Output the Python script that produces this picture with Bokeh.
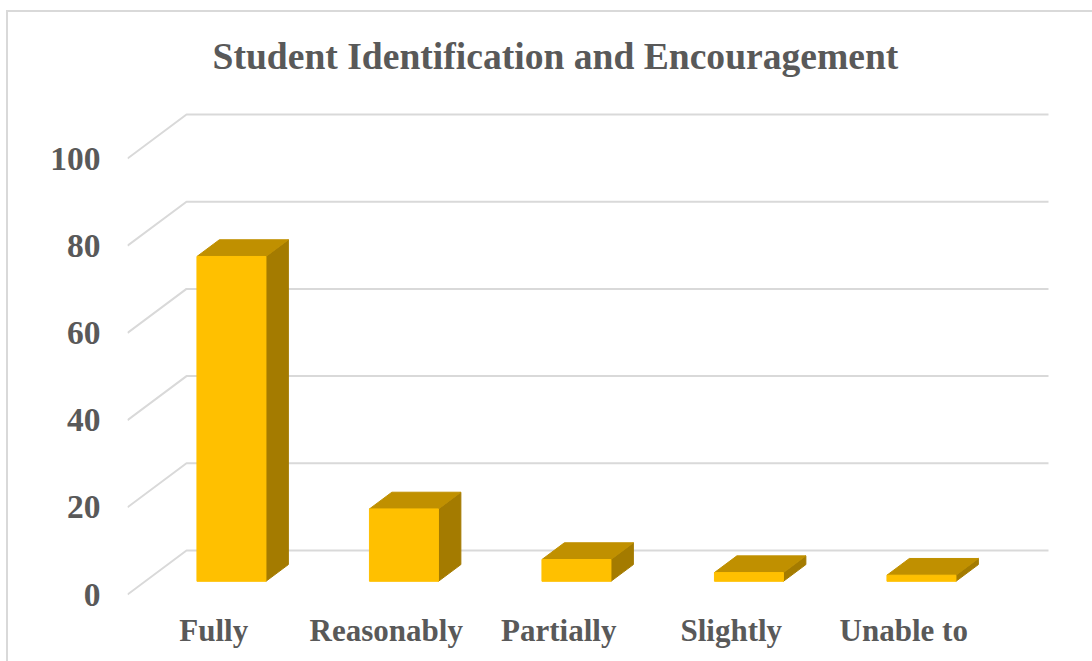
from bokeh.embed import file_html
from bokeh.resources import INLINE
from bokeh.models import FixedTicker, Range1d, Title
from bokeh.plotting import figure

categories = ["Fully", "Reasonably", "Partially", "Slightly", "Unable to"]
values = [74.5, 16.6, 5.0, 2.0, 1.4]
y_ticks = [0, 20, 40, 60, 80, 100]

PX_X = 172.5
PX_Y = 4.36
DX = 59 / PX_X
DY = 44 / PX_Y
NEAR, FAR = 0.30, 0.68
HALF = 0.2
GREY = "#d9d9d9"
TXT = "#595959"
FONT = "Liberation Serif"

FRAME_W, FRAME_H = 921, 500
x_start = -0.5
y_start = -6 / PX_Y

stripe = f"linear-gradient({GREY},{GREY})"
p = figure(frame_width=FRAME_W, frame_height=FRAME_H, output_backend="svg", toolbar_location=None,
           x_range=Range1d(x_start, x_start + FRAME_W / PX_X),
           y_range=Range1d(y_start, y_start + FRAME_H / PX_Y),
           min_border_left=127, min_border_right=44, min_border_top=100, min_border_bottom=61,
           outline_line_color=None, border_fill_alpha=0, background_fill_alpha=0,
           styles={"background": f"{stripe} 6px 10px/2px 651px no-repeat, "
                                 f"{stripe} 6px 10px/1086px 2px no-repeat, #ffffff"})
p.xgrid.visible = False
p.ygrid.visible = False

title = Title(text="Student Identification and Encouragement", align="left", offset=85,
              text_font=FONT, text_font_size="37.6px", text_font_style="bold",
              text_color=TXT, standoff=47)
p.add_layout(title, "above")

p.yaxis.ticker = FixedTicker(ticks=y_ticks)
p.yaxis.axis_line_color = None
p.yaxis.major_tick_line_color = None
p.yaxis.minor_tick_line_color = None
p.yaxis.major_label_standoff = 21
p.yaxis.major_label_text_font = FONT
p.yaxis.major_label_text_font_size = "33.5px"
p.yaxis.major_label_text_font_style = "bold"
p.yaxis.major_label_text_color = TXT

p.xaxis.ticker = FixedTicker(ticks=list(range(len(categories))))
p.xaxis.major_label_overrides = {i: c for i, c in enumerate(categories)}
p.xaxis.axis_line_color = None
p.xaxis.major_tick_line_color = None
p.xaxis.minor_tick_line_color = None
p.xaxis.major_label_standoff = 6
p.xaxis.major_label_text_font = FONT
p.xaxis.major_label_text_font_size = "31px"
p.xaxis.major_label_text_font_style = "bold"
p.xaxis.major_label_text_color = TXT

n = len(categories)
grid_x = [[x_start, x_start + DX, n - 0.5 + DX] for _ in y_ticks]
grid_y = [[t, t + DY, t + DY] for t in y_ticks]
p.multi_line(grid_x, grid_y, line_color=GREY, line_width=2)

front_x, front_y, side_x, side_y, top_x, top_y = [], [], [], [], [], []
for i, v in enumerate(values):
    l = i + NEAR * DX - HALF
    r = i + NEAR * DX + HALF
    b = NEAR * DY
    t = b + v
    ox = (FAR - NEAR) * DX
    oy = (FAR - NEAR) * DY
    front_x.append([l, r, r, l]); front_y.append([b, b, t, t])
    side_x.append([r, r + ox, r + ox, r]); side_y.append([b, b + oy, t + oy, t])
    top_x.append([l, r, r + ox, l + ox]); top_y.append([t, t, t + oy, t + oy])

p.patches(side_x, side_y, fill_color="#A47B00", line_color="#A47B00", line_width=1)
p.patches(top_x, top_y, fill_color="#C09000", line_color="#C09000", line_width=1)
p.patches(front_x, front_y, fill_color="#FFC000", line_color="#FFC000", line_width=1)

open("out.html", "w").write(file_html(p, INLINE))
